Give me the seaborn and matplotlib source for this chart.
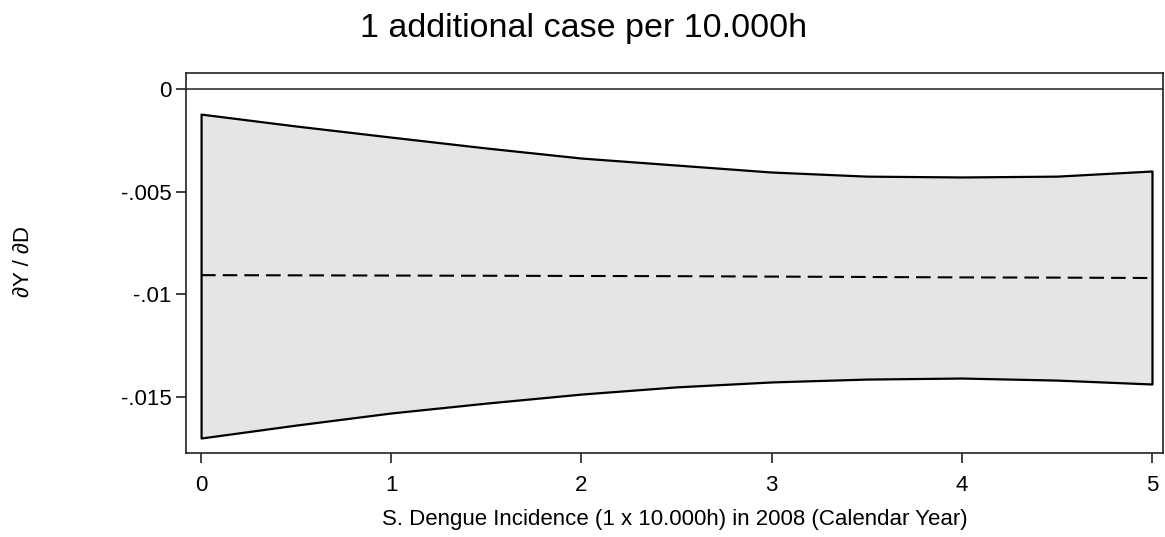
import matplotlib
matplotlib.use("Agg")
import matplotlib.pyplot as plt
import seaborn as sns
import pandas as pd

# values
incidence = [0, 0.5, 1, 1.5, 2, 2.5, 3, 3.5, 4, 4.5, 5]
upper = [-0.00122, -0.0018, -0.00234, -0.00287, -0.00336, -0.0037,
         -0.00404, -0.00424, -0.00428, -0.00424, -0.00399]
lower = [-0.01699, -0.01636, -0.01577, -0.01529, -0.01485, -0.0145,
         -0.01426, -0.01412, -0.01407, -0.01417, -0.01436]
effect = [-0.00906, -0.00907, -0.00908, -0.00909, -0.0091, -0.00911,
          -0.00913, -0.00915, -0.00917, -0.00918, -0.0092]

y_ticks = [0, -0.005, -0.01, -0.015]
y_tick_labels = ["0", "-.005", "-.01", "-.015"]
x_ticks = [0, 1, 2, 3, 4, 5]


def main():
    sns.set_style("white")
    plt.rcParams["font.family"] = ["Liberation Sans", "DejaVu Sans"]
    plt.rcParams["text.color"] = "black"
    plt.rcParams["axes.labelcolor"] = "black"
    plt.rcParams["xtick.color"] = "black"
    plt.rcParams["ytick.color"] = "black"

    df = pd.DataFrame({"x": incidence, "upper": upper, "lower": lower, "effect": effect})

    fig = plt.figure(figsize=(11.65, 5.37), dpi=100)
    ax = fig.add_axes([0.1597, 0.1564, 0.8386, 0.7076])

    ax.fill_between(df["x"], df["lower"], df["upper"], facecolor="#e5e5e5",
                    edgecolor="black", linewidth=1.6, zorder=1)
    sns.lineplot(data=df, x="x", y="effect", ax=ax, color="black",
                 linewidth=1.5, linestyle=(0, (7, 3.4)), zorder=2)
    ax.axhline(0, color="#333333", linewidth=1.2, zorder=0)

    ax.set_xlim(-0.079, 5.058)
    ax.set_ylim(-0.01772, 0.00078)
    ax.set_xticks(x_ticks)
    ax.set_xticklabels([str(t) for t in x_ticks])
    ax.set_yticks(y_ticks)
    ax.set_yticklabels(y_tick_labels)
    ax.tick_params(axis="x", direction="out", length=7, width=1.2,
                   color="#222222", labelsize=16, pad=8.5, bottom=True)
    ax.tick_params(axis="y", direction="out", length=7, width=1.2,
                   color="#222222", labelsize=16, pad=3.5, left=True)

    for side in ["left", "bottom", "top", "right"]:
        ax.spines[side].set_color("#222222")
        ax.spines[side].set_linewidth(1.2)

    ax.set_xlabel("S. Dengue Incidence (1 x 10.000h) in 2008 (Calendar Year)",
                  fontsize=16)
    ax.xaxis.set_label_coords(0.5, -0.148)
    ax.set_ylabel("\u2202Y / \u2202D", fontsize=16)
    ax.yaxis.set_label_coords(-0.156, 0.503)
    fig.text(0.501, 0.9311, "1 additional case per 10.000h", ha="center",
             va="baseline", fontsize=24.5)

    fig.savefig("out.png", dpi=100)


if __name__ == "__main__":
    main()
